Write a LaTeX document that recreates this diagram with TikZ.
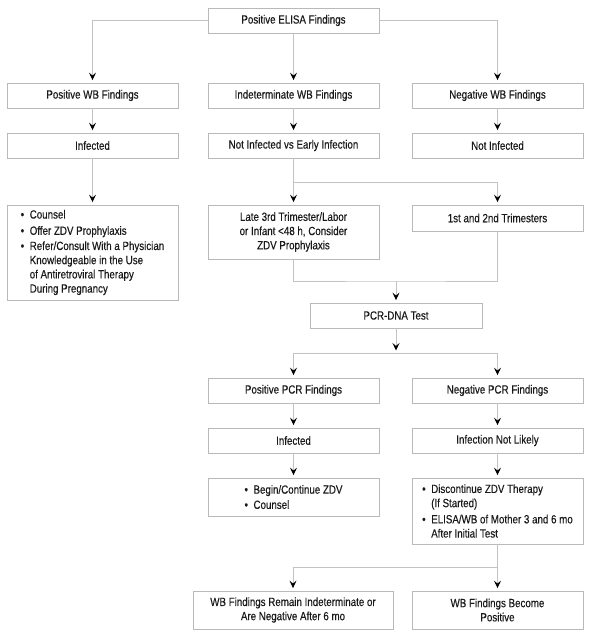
\documentclass[tikz,border=0pt]{standalone}
\usepackage{fontspec}
\setmainfont{Liberation Sans}[FakeStretch=0.82,FakeBold=0.35]
\usetikzlibrary{arrows.meta}
\definecolor{linecol}{RGB}{195,195,195}
\definecolor{boxcol}{RGB}{185,185,185}
\newcommand\bul{\makebox[9pt][l]{\textbullet}}
\newcommand\bulind{\hspace*{9pt}}
\begin{document}
\begin{tikzpicture}[x=1pt,y=-1pt,
  box/.style={draw=boxcol, line width=0.8pt, minimum width=171pt, minimum height=25pt,
    inner sep=0pt, align=center, font=\fontsize{11.9}{14.2}\selectfont, text=black!90},
  conn/.style={draw=linecol, line width=0.9pt},
  arr/.style={conn, -{Stealth[length=7.5pt,width=7pt,inset=3pt,color=black]}, shorten >=2.5pt}
]
\useasboundingbox (0,0) rectangle (590,637);

\node[box] (elisa) at (293.5,20.5) {Positive ELISA Findings};
\node[box] (pwb) at (92.5,95.5) {Positive WB Findings};
\node[box] (iwb) at (293.5,95.5) {Indeterminate WB Findings};
\node[box] (nwb) at (497.5,95.5) {Negative WB Findings};
\node[box] (inf1) at (92.5,145.5) {Infected};
\node[box] (nie) at (293.5,145.5) {Not Infected vs Early Infection};
\node[box] (ninf) at (497.5,145.5) {Not Infected};
\node[box, minimum height=95pt, align=left] (cns) at (92.5,252.5)
  {\bul Counsel\\[2pt]\bul Offer ZDV Prophylaxis\\[1pt]\bul Refer/Consult With a Physician\\
   \bulind Knowledgeable in the Use\\\bulind of Antiretroviral Therapy\\\bulind During Pregnancy};
\node[box, minimum height=54pt] (late) at (293.5,232)
  {Late 3rd Trimester/Labor\\or Infant <48 h, Consider\\ZDV Prophylaxis};
\node[box, minimum height=26pt] (tri) at (497.5,218) {1st and 2nd Trimesters};
\node[box, minimum width=172pt] (pcr) at (396,315.5) {PCR-DNA Test};
\node[box] (ppcr) at (293.5,390.5) {Positive PCR Findings};
\node[box] (npcr) at (497.5,390.5) {Negative PCR Findings};
\node[box] (inf2) at (293.5,440.5) {Infected};
\node[box] (inl) at (497.5,440.5) {Infection Not Likely};
\node[box, minimum height=38pt, align=left] (beg) at (293.5,497)
  {\bul Begin/Continue ZDV\\[1pt]\bul Counsel};
\node[box, minimum height=66pt, align=left] (disc) at (497.5,511)
  {\bul Discontinue ZDV Therapy\\\bulind (If Started)\\[2pt]\bul ELISA/WB of Mother 3 and 6 mo\\\bulind After Initial Test};
\node[box, minimum width=200pt, minimum height=38pt] (rem) at (293,610)
  {WB Findings Remain Indeterminate or\\Are Negative After 6 mo};
\node[box, minimum height=38pt] (bec) at (497.5,610) {WB Findings Become\\Positive};

\coordinate (j1) at (293.5,182);
\coordinate (j2) at (396,281);
\coordinate (j3) at (396,353);
\coordinate (j4) at (497.5,567);

\draw[arr] (elisa.west) -| (pwb.north);
\draw[arr] (elisa.east) -| (nwb.north);
\draw[arr] (elisa.south) -- (iwb.north);
\draw[arr] (pwb.south) -- (inf1.north);
\draw[arr] (iwb.south) -- (nie.north);
\draw[arr] (nwb.south) -- (ninf.north);
\draw[arr] (inf1.south) -- (cns.north);
\draw[conn] (nie.south) -- (j1);
\draw[arr] (j1) -- (late.north);
\draw[arr] (j1) -| (tri.north);
\draw[conn] (late.south) |- (j2) -| (tri.south);
\draw[arr] (j2) -- (pcr.north);
\draw[arr] (pcr.south) -- (j3);
\draw[arr] (j3) -| (ppcr.north);
\draw[arr] (j3) -| (npcr.north);
\draw[arr] (ppcr.south) -- (inf2.north);
\draw[arr] (inf2.south) -- (beg.north);
\draw[arr] (npcr.south) -- (inl.north);
\draw[arr] (inl.south) -- (disc.north);
\draw[conn] (disc.south) -- (j4);
\draw[arr] (j4) -- (bec.north);
\draw[arr] (j4) -| (rem.north);
\end{tikzpicture}
\end{document}
